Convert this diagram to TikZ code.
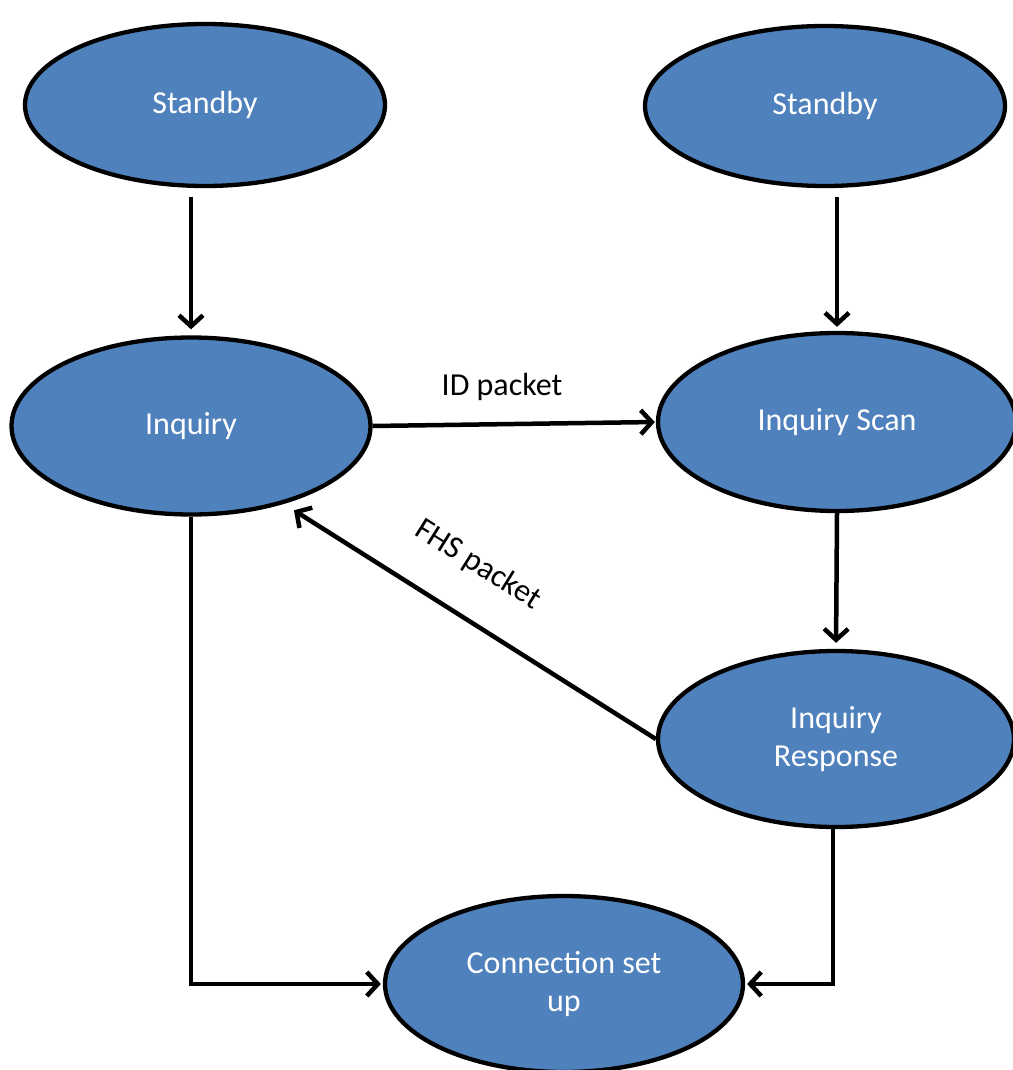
\documentclass[tikz,border=0pt]{standalone}
\usepackage{fontspec}
\setmainfont{Carlito}
\usetikzlibrary{shapes.geometric,arrows.meta,calc}
\definecolor{stateblue}{HTML}{4F81BD}
\begin{document}
\begin{tikzpicture}[x=1pt,y=-1pt,
  state/.style={ellipse,draw=black,line width=4.3pt,fill=stateblue,
    text=white,align=center,inner sep=0pt,
    font=\fontsize{32}{38}\selectfont},
  arr/.style={line width=4.5pt,-{Straight Barb[length=11pt,width=24pt]}},
  lbl/.style={font=\fontsize{32}{38}\selectfont,text=black}]
\useasboundingbox (0,0) rectangle (1012,1070);

% states
\node[state,minimum width=360pt,minimum height=162pt] (sbL) at (205,105) {Standby};
\node[state,minimum width=360pt,minimum height=160pt] (sbR) at (825,106) {Standby};
\node[state,minimum width=359pt,minimum height=177pt] (inq) at (191,426) {Inquiry};
\node[state,minimum width=358pt,minimum height=178pt] (scan) at (837,422) {Inquiry Scan};
\node[state,minimum width=356pt,minimum height=176pt] (resp) at (836,739) {Inquiry\\Response};
\node[state,minimum width=358pt,minimum height=176pt] (conn) at (564,984) {Connection set\\up};

% transitions
\draw[arr,shorten <=9pt,shorten >=6pt] (inq.north |- sbL.south) -- (inq.north);
\draw[arr,shorten <=9pt,shorten >=4pt] (scan.north |- sbR.south) -- (scan.north);
\draw[arr,shorten >=1pt] (inq.east) -- (scan.west);
\draw[arr,shorten >=6pt] (scan.south) -- (resp.north);
\draw[arr,shorten >=12pt] (resp.west) -- (inq.-40.6);
\draw[arr,shorten >=2pt] (inq.south) |- (conn.west);
\draw[arr,shorten >=2pt] ([xshift=-3pt]resp.south) |- (conn.east);

% packet labels
\node[lbl] (idp) at (502,387) {ID packet};
\node[lbl,rotate=-32] (fhs) at (478,565) {FHS packet};
\end{tikzpicture}
\end{document}
